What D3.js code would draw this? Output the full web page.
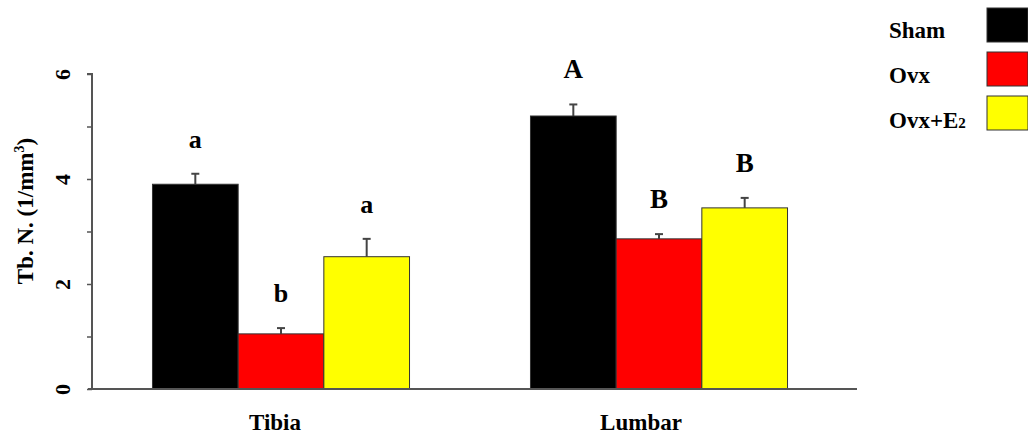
<!DOCTYPE html>
<html>
<head>
<meta charset="utf-8">
<script src="https://cdn.jsdelivr.net/npm/d3@7"></script>
<style>
  body { margin: 0; background: #fff; }
  text { font-family: "Liberation Serif", "Times New Roman", serif; font-weight: bold; }
</style>
</head>
<body>
<div id="chart"></div>
<script>
var sites = ["Tibia", "Lumbar"];
var groups = ["Sham", "Ovx", "Ovx+E2"];
var colors = ["#000000", "#ff0000", "#ffff00"];
var tibiaMean = [3.9, 1.05, 2.52];
var tibiaErr = [0.2, 0.11, 0.34];
var lumbarMean = [5.2, 2.86, 3.45];
var lumbarErr = [0.22, 0.09, 0.19];
var tibiaLetters = ["a", "b", "a"];
var lumbarLetters = ["A", "B", "B"];
var yTicks = [0, 1, 2, 3, 4, 5, 6];
var yLabels = [0, 2, 4, 6];

function init() {
  var w = 1028, h = 436;
  var left = 92, right = 857, top = 74, bottom = 389;

  var rows = [];
  sites.forEach(function(s, si) {
    var m = si == 0 ? tibiaMean : lumbarMean;
    var e = si == 0 ? tibiaErr : lumbarErr;
    var l = si == 0 ? tibiaLetters : lumbarLetters;
    groups.forEach(function(g, gi) {
      rows.push({site: s, group: g, mean: m[gi], err: e[gi], letter: l[gi]});
    });
  });

  var svg = d3.select("#chart").append("svg")
    .attr("width", w).attr("height", h);

  var x0 = d3.scaleBand().domain(sites).range([left, 848])
    .paddingInner(0.32).paddingOuter(0.16);
  var x1 = d3.scaleBand().domain(groups).range([0, x0.bandwidth()]);
  var y = d3.scaleLinear().domain([0, 6]).range([bottom, top]);
  var color = d3.scaleOrdinal().domain(groups).range(colors);

  var bars = svg.selectAll("g.bar").data(rows).enter().append("g")
    .attr("class", "bar")
    .attr("transform", function(d) { return "translate(" + (x0(d.site) + x1(d.group)) + ",0)"; });

  // error bars, upper half only
  bars.append("line")
    .attr("x1", x1.bandwidth() / 2).attr("x2", x1.bandwidth() / 2)
    .attr("y1", function(d) { return y(d.mean); })
    .attr("y2", function(d) { return y(d.mean + d.err); })
    .attr("stroke", "#444").attr("stroke-width", 2);
  bars.append("line")
    .attr("x1", x1.bandwidth() / 2 - 4).attr("x2", x1.bandwidth() / 2 + 4)
    .attr("y1", function(d) { return y(d.mean + d.err); })
    .attr("y2", function(d) { return y(d.mean + d.err); })
    .attr("stroke", "#444").attr("stroke-width", 2);

  bars.append("rect")
    .attr("x", 0)
    .attr("y", function(d) { return y(d.mean); })
    .attr("width", x1.bandwidth())
    .attr("height", function(d) { return bottom - y(d.mean); })
    .attr("fill", function(d) { return color(d.group); })
    .attr("stroke", "#333").attr("stroke-width", 1);

  bars.append("text")
    .attr("x", x1.bandwidth() / 2)
    .attr("y", function(d) { return y(d.mean + d.err) - 26; })
    .attr("text-anchor", "middle")
    .attr("font-size", function(d) { return d.letter == d.letter.toUpperCase() ? 27 : 26; })
    .text(function(d) { return d.letter; });

  // y axis
  var yAxis = d3.axisLeft(y).tickValues(yTicks).tickSize(5)
    .tickFormat(function(d) { return yLabels.indexOf(d) >= 0 ? d : ""; });
  var ga = svg.append("g").attr("transform", "translate(" + left + ",0)").call(yAxis);
  ga.select(".domain").attr("stroke", "#555").attr("stroke-width", 2)
    .attr("d", "M-5," + y(6) + "H0V" + bottom);
  ga.selectAll(".tick line").attr("stroke", "#555").attr("stroke-width", 1.5);
  ga.selectAll(".tick text")
    .attr("font-family", "Liberation Serif").attr("font-weight", "bold")
    .attr("font-size", 22).attr("fill", "#000")
    .attr("x", 0).attr("dy", 0)
    .attr("text-anchor", "middle")
    .attr("transform", "translate(-22,0) rotate(-90)");

  // x axis
  svg.append("line")
    .attr("x1", left - 4).attr("x2", right)
    .attr("y1", bottom).attr("y2", bottom)
    .attr("stroke", "#555").attr("stroke-width", 2);

  svg.selectAll("text.site").data(sites).enter().append("text")
    .attr("class", "site")
    .attr("x", function(d) { return x0(d) + x0.bandwidth() / 2 - 6 - (d == "Lumbar" ? 12 : 0); })
    .attr("y", 430)
    .attr("text-anchor", "middle")
    .attr("font-size", 23)
    .text(function(d) { return d; });

  // y title
  var t = svg.append("text")
    .attr("transform", "translate(33,211) rotate(-90)")
    .attr("text-anchor", "middle")
    .attr("font-size", 23);
  t.append("tspan").text("Tb. N. (1/mm");
  t.append("tspan").attr("font-size", 14).attr("dy", -9).text("3");
  t.append("tspan").attr("dy", 9).text(")");

  // legend
  var lg = svg.selectAll("g.legend").data(groups).enter().append("g")
    .attr("class", "legend")
    .attr("transform", function(d, i) { return "translate(0," + (i * 44) + ")"; });
  lg.append("rect")
    .attr("x", 987).attr("y", 8).attr("width", 41).attr("height", 34)
    .attr("fill", function(d) { return color(d); })
    .attr("stroke", "#333").attr("stroke-width", 1);
  lg.each(function(d, i) {
    var tx = d3.select(this).append("text")
      .attr("x", 889).attr("y", 38 + i).attr("font-size", 23);
    if (d == "Ovx+E2") {
      tx.append("tspan").text("Ovx+E");
      tx.append("tspan").attr("font-size", 15).text("2");
    } else {
      tx.text(d);
    }
  });
}

window.onload = init;
</script>
</body>
</html>
